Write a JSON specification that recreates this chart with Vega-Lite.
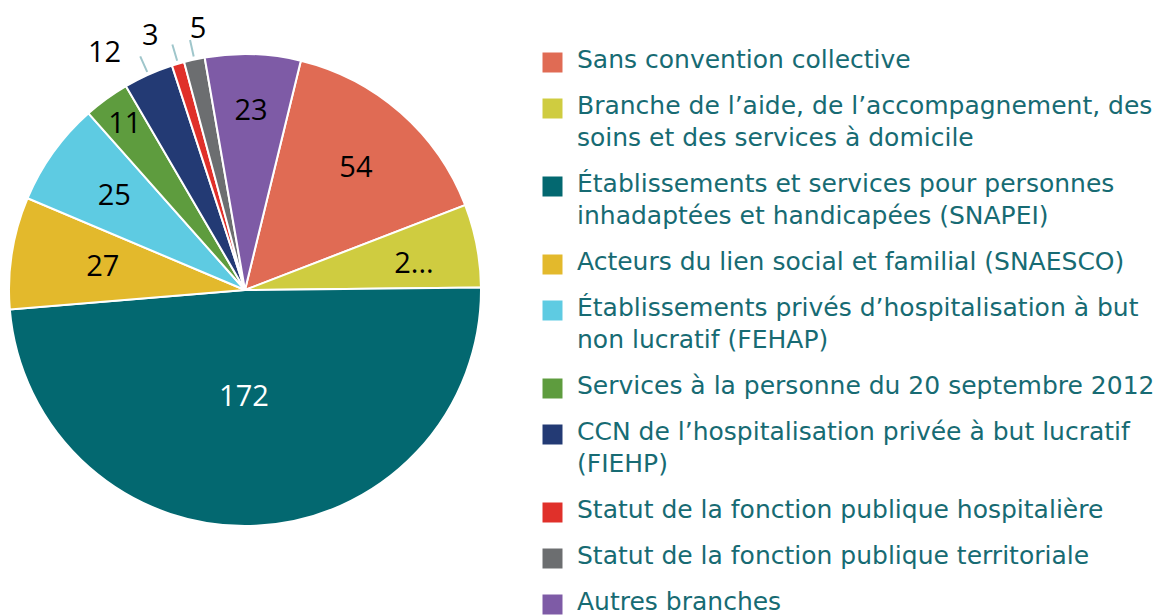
{
  "$schema": "https://vega.github.io/schema/vega-lite/v6.json",
  "width": 490,
  "height": 580,
  "autosize": {"type": "none"},
  "padding": {"left": 0, "top": 0, "right": 675, "bottom": 36},
  "background": "white",
  "config": {"view": {"stroke": null}, "style": {"guide-label": {"lineHeight": 32, "dy": -15}}},
  "data": {
    "values": [
      {"k": 1, "cat": "Sans convention collective", "value": 54, "lbl": "54"},
      {"k": 2, "cat": "Branche de l’aide, de l’accompagnement, des soins et des services à domicile", "value": 20, "lbl": "2..."},
      {"k": 3, "cat": "Établissements et services pour personnes inhadaptées et handicapées (SNAPEI)", "value": 172, "lbl": "172"},
      {"k": 4, "cat": "Acteurs du lien social et familial (SNAESCO)", "value": 27, "lbl": "27"},
      {"k": 5, "cat": "Établissements privés d’hospitalisation à but non lucratif (FEHAP)", "value": 25, "lbl": "25"},
      {"k": 6, "cat": "Services à la personne du 20 septembre 2012", "value": 11, "lbl": "11"},
      {"k": 7, "cat": "CCN de l’hospitalisation privée à but lucratif (FIEHP)", "value": 12, "lbl": "12"},
      {"k": 8, "cat": "Statut de la fonction publique hospitalière", "value": 3, "lbl": "3"},
      {"k": 9, "cat": "Statut de la fonction publique territoriale", "value": 5, "lbl": "5"},
      {"k": 10, "cat": "Autres branches", "value": 23, "lbl": "23"}
    ]
  },
  "encoding": {
    "theta": {"field": "value", "type": "quantitative", "stack": true, "scale": {"range": [0.239, 6.522]}},
    "order": {"field": "k", "type": "quantitative"}
  },
  "layer": [
    {
      "mark": {"type": "arc", "outerRadius": 236, "stroke": "white", "strokeWidth": 2},
      "encoding": {
        "color": {
          "field": "cat",
          "type": "nominal",
          "scale": {
            "domain": [
              "Sans convention collective",
              "Branche de l’aide, de l’accompagnement, des soins et des services à domicile",
              "Établissements et services pour personnes inhadaptées et handicapées (SNAPEI)",
              "Acteurs du lien social et familial (SNAESCO)",
              "Établissements privés d’hospitalisation à but non lucratif (FEHAP)",
              "Services à la personne du 20 septembre 2012",
              "CCN de l’hospitalisation privée à but lucratif (FIEHP)",
              "Statut de la fonction publique hospitalière",
              "Statut de la fonction publique territoriale",
              "Autres branches"
            ],
            "range": ["#e06b54", "#cfcc40", "#036870", "#e3b92c", "#5ecbe2", "#5e9c3e", "#233a74", "#e0302a", "#6c6e70", "#7e5ba6"]
          },
          "legend": {
            "title": null,
            "orient": "none",
            "legendX": 540,
            "legendY": 50,
            "symbolType": "square",
            "symbolSize": 400,
            "symbolStrokeWidth": 0,
            "labelFont": "DejaVu Sans",
            "labelFontSize": 25,
            "labelColor": "#176b73",
            "labelLimit": 650,
            "labelOffset": 12,
            "labelBaseline": "top",
            "rowPadding": 20,
            "labelExpr": "split(replace(replace(replace(replace(datum.label, ', des soins', ', des|soins'), 'personnes inhadaptées', 'personnes|inhadaptées'), 'but non', 'but|non'), 'lucratif (FIEHP)', 'lucratif|(FIEHP)'), '|')"
          }
        }
      }
    },
    {
      "mark": {"type": "arc", "innerRadius": 239, "outerRadius": 256, "padAngle": 0.8, "fill": null, "fillOpacity": 0, "stroke": "#9fc6cb", "strokeWidth": 2},
      "encoding": {"strokeOpacity": {"condition": {"test": "datum.k >= 7 && datum.k <= 9", "value": 1}, "value": 0}}
    },
    {
      "mark": {"type": "text", "radius": 168, "font": "Open Sans", "fontSize": 29, "color": "black", "dy": 4},
      "encoding": {"text": {"condition": {"test": "datum.k == 1", "field": "lbl"}, "value": ""}}
    },
    {
      "mark": {"type": "text", "radius": 172, "font": "Open Sans", "fontSize": 29, "color": "black", "dy": 6},
      "encoding": {"text": {"condition": {"test": "datum.k == 2", "field": "lbl"}, "value": ""}}
    },
    {
      "mark": {"type": "text", "radius": 179, "font": "Open Sans", "fontSize": 29, "color": "black"},
      "encoding": {"text": {"condition": {"test": "datum.k == 10", "field": "lbl"}, "value": ""}}
    },
    {
      "mark": {"type": "text", "radius": 161, "font": "Open Sans", "fontSize": 29, "color": "black"},
      "encoding": {"text": {"condition": {"test": "datum.k == 5", "field": "lbl"}, "value": ""}}
    },
    {
      "mark": {"type": "text", "radius": 144, "font": "Open Sans", "fontSize": 29, "color": "black"},
      "encoding": {"text": {"condition": {"test": "datum.k == 4", "field": "lbl"}, "value": ""}}
    },
    {
      "mark": {"type": "text", "radius": 205, "font": "Open Sans", "fontSize": 29, "color": "black"},
      "encoding": {"text": {"condition": {"test": "datum.k == 6", "field": "lbl"}, "value": ""}}
    },
    {
      "mark": {"type": "text", "radius": 107, "font": "Open Sans", "fontSize": 29, "color": "white", "dx": -6},
      "encoding": {"text": {"condition": {"test": "datum.k == 3", "field": "lbl"}, "value": ""}}
    },
    {
      "mark": {"type": "text", "radius": 270, "font": "Open Sans", "fontSize": 29, "color": "black", "dx": -30, "dy": 9},
      "encoding": {"text": {"condition": {"test": "datum.k == 7", "field": "lbl"}, "value": ""}}
    },
    {
      "mark": {"type": "text", "radius": 270, "font": "Open Sans", "fontSize": 29, "color": "black", "dx": -18, "dy": 5},
      "encoding": {"text": {"condition": {"test": "datum.k == 8", "field": "lbl"}, "value": ""}}
    },
    {
      "mark": {"type": "text", "radius": 270, "font": "Open Sans", "fontSize": 29, "color": "black", "dx": 11, "dy": 3},
      "encoding": {"text": {"condition": {"test": "datum.k == 9", "field": "lbl"}, "value": ""}}
    }
  ]
}
